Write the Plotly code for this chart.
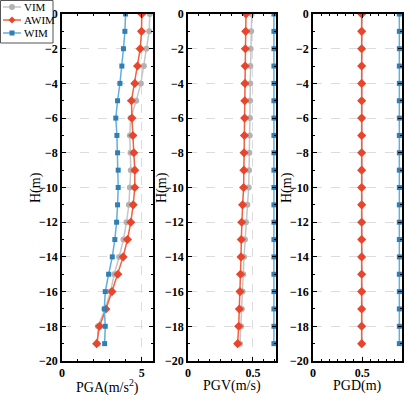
import plotly.graph_objects as go

depth = [0, -1, -2, -3, -4, -5, -6, -7, -8, -9, -10, -11, -12, -13, -14, -15, -16, -17, -18, -19]

pga_vim = [5.5, 5.46, 5.29, 5.13, 4.94, 4.65, 4.3, 4.25, 4.29, 4.31, 4.25, 4.19, 4.04, 3.85, 3.58, 3.27, 3.04, 2.69, 2.25, 2.23]
pga_awim = [5.0, 4.98, 4.9, 4.73, 4.56, 4.35, 4.38, 4.44, 4.5, 4.56, 4.56, 4.46, 4.31, 4.1, 3.83, 3.5, 3.13, 2.75, 2.35, 2.17]
pga_wim = [3.98, 3.94, 3.85, 3.75, 3.63, 3.48, 3.37, 3.44, 3.48, 3.52, 3.52, 3.48, 3.42, 3.31, 3.15, 2.92, 2.71, 2.65, 2.71, 2.67]

pgv_vim = [0.49, 0.486, 0.482, 0.48, 0.479, 0.478, 0.477, 0.475, 0.472, 0.47, 0.467, 0.457, 0.446, 0.438, 0.431, 0.425, 0.42, 0.414, 0.408, 0.40]
pgv_awim = [0.446, 0.444, 0.441, 0.44, 0.438, 0.437, 0.436, 0.434, 0.431, 0.43, 0.428, 0.42, 0.413, 0.41, 0.408, 0.404, 0.40, 0.395, 0.39, 0.382]
pgv_wim = [0.661, 0.661, 0.661, 0.661, 0.661, 0.661, 0.661, 0.661, 0.661, 0.661, 0.661, 0.661, 0.661, 0.661, 0.661, 0.661, 0.661, 0.661, 0.661, 0.661]

pgd_vim = [0.495] * 20
pgd_awim = [0.495] * 20
pgd_wim = [0.878] * 20

series_names = ["VIM", "AWIM", "WIM"]
x_titles = ["PGA(m/s<sup>2</sup>)", "PGV(m/s)", "PGD(m)"]
y_title = "H(m)"

W, H = 405, 395
FONT = "Liberation Serif"

colors = {
    "VIM": ("#C6C6C6", "#B3B3B3"),
    "AWIM": ("#F2603E", "#E8452C"),
    "WIM": ("#62AEDC", "#2F7FB4"),
}
symbols = {"VIM": ("circle", 6), "AWIM": ("diamond", 7), "WIM": ("square", 5)}

panels = [
    (dict(VIM=pga_vim, AWIM=pga_awim, WIM=pga_wim), (62, 153), [0, 5.7], 5, 1),
    (dict(VIM=pgv_vim, AWIM=pgv_awim, WIM=pgv_wim), (188, 276), [0, 0.677], 0.5, 0.5 / 6),
    (dict(VIM=pgd_vim, AWIM=pgd_awim, WIM=pgd_wim), (313, 402), [0, 0.905], 0.5, 0.5 / 6),
]

top_px, bot_px = 14, 361
ydom = [1 - bot_px / H, 1 - top_px / H]

fig = go.Figure()
layout = dict(
    width=W, height=H,
    margin=dict(l=0, r=0, t=0, b=0, autoexpand=False),
    paper_bgcolor="white", plot_bgcolor="white",
    font=dict(family=FONT, color="black"),
    showlegend=False,
)
annotations = []
shapes = []
for i, (data, (x0, x1), xr, dt, mdt) in enumerate(panels):
    n = "" if i == 0 else str(i + 1)
    for name in series_names:
        fig.add_trace(go.Scatter(
            x=data[name], y=depth, mode="lines+markers", name=name,
            xaxis="x" + n, yaxis="y" + n,
            line=dict(color=colors[name][0], width=1.5),
            marker=dict(symbol=symbols[name][0], size=symbols[name][1], color=colors[name][1]),
        ))
    common = dict(
        ticks="inside", ticklen=4, tickwidth=1, tickcolor="black",
        showline=True, linecolor="black", linewidth=1.5, mirror="ticks",
        showgrid=True, gridcolor="#DCDCDC", griddash="dash", gridwidth=1,
        zeroline=False, automargin=False,
        tickfont=dict(family=FONT, size=12, color="black", weight="bold"),
    )
    layout["xaxis" + n] = dict(
        domain=[x0 / W, x1 / W], range=xr, anchor="y" + n,
        tickmode="linear", tick0=0, dtick=dt,
        minor=dict(dtick=mdt, tick0=0, ticks="inside", ticklen=2, tickcolor="black", showgrid=False),
        **common,
    )
    layout["yaxis" + n] = dict(
        domain=ydom, range=[-20, 0], anchor="x" + n,
        tickmode="linear", tick0=0, dtick=2,
        minor=dict(dtick=1, tick0=0, ticks="inside", ticklen=2, tickcolor="black", showgrid=False),
        **common,
    )
    annotations.append(dict(
        text=x_titles[i], x=(x0 + x1) / 2 / W, y=1 - 386 / H, xref="paper", yref="paper",
        xanchor="center", yanchor="middle", showarrow=False,
        font=dict(family=FONT, size=14, color="black"),
    ))
    annotations.append(dict(
        text=y_title, x=(x0 - 26) / W, y=1 - 188 / H, xref="paper", yref="paper",
        xanchor="center", yanchor="middle", showarrow=False, textangle=-90,
        font=dict(family=FONT, size=14, color="black"),
    ))

# compact legend box (drawn in pixel-based paper coordinates)
def px(x):
    return x / W

def py(y):
    return 1 - y / H

shapes.append(dict(type="rect", xref="paper", yref="paper",
                   x0=px(0.5), x1=px(53), y0=py(0.5), y1=py(43),
                   line=dict(color="#555555", width=1), fillcolor="white", layer="above"))
leg_y = {"VIM": 7, "AWIM": 20, "WIM": 33}
for name in series_names:
    yy = leg_y[name]
    shapes.append(dict(type="line", xref="paper", yref="paper",
                       x0=px(3), x1=px(21), y0=py(yy), y1=py(yy),
                       line=dict(color=colors[name][0], width=1.5), layer="above"))
    c = colors[name][1]
    if name == "VIM":
        shapes.append(dict(type="circle", xref="paper", yref="paper",
                           x0=px(9), x1=px(15), y0=py(yy - 3), y1=py(yy + 3),
                           line=dict(color=c, width=0), fillcolor=c, layer="above"))
    elif name == "AWIM":
        path = "M {} {} L {} {} L {} {} L {} {} Z".format(
            px(12), py(yy - 3.5), px(15.5), py(yy), px(12), py(yy + 3.5), px(8.5), py(yy))
        shapes.append(dict(type="path", xref="paper", yref="paper", path=path,
                           line=dict(color=c, width=0), fillcolor=c, layer="above"))
    else:
        shapes.append(dict(type="rect", xref="paper", yref="paper",
                           x0=px(9.5), x1=px(14.5), y0=py(yy - 2.5), y1=py(yy + 2.5),
                           line=dict(color=c, width=0), fillcolor=c, layer="above"))
    annotations.append(dict(
        text=name, x=px(21.5), y=py(yy), xref="paper", yref="paper",
        xanchor="left", yanchor="middle", showarrow=False,
        font=dict(family=FONT, size=11, color="black"),
    ))

layout["annotations"] = annotations
layout["shapes"] = shapes
fig.update_layout(**layout)
fig.write_html("out.html", config={"displayModeBar": False},
               post_script="document.body.style.margin='0';document.body.style.overflow='hidden';")
